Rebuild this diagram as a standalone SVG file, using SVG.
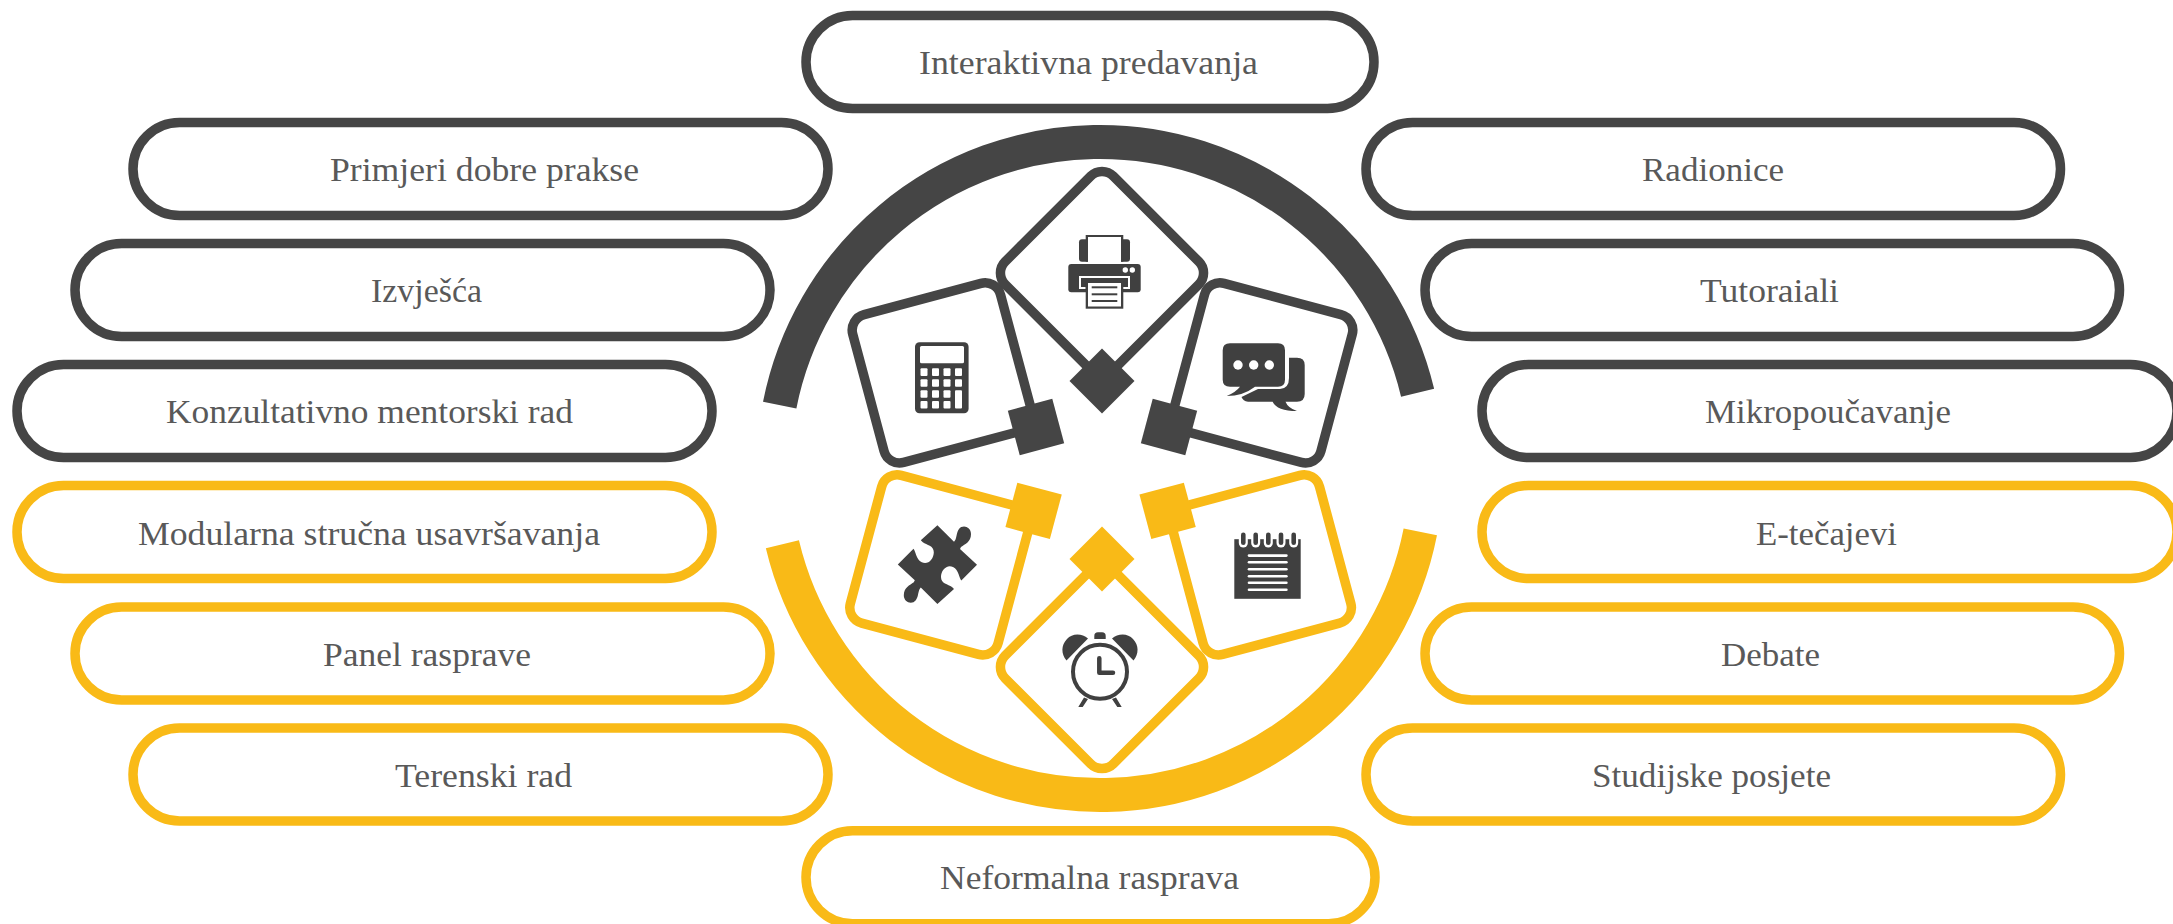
<svg xmlns="http://www.w3.org/2000/svg" width="2173" height="924" viewBox="0 0 2173 924">
<style>
.pill{fill:#fff;stroke-width:9.5}
.d{stroke:#454545}.y{stroke:#F9BA17}
.fd{fill:#454545}.fy{fill:#F9BA17}
.tile{fill:none;stroke-width:9.5}
.i{fill:#404040}.w{fill:#fff}
text{font-family:"Liberation Serif","Times New Roman",serif;font-size:34px;fill:#595959}
</style>
<rect width="2173" height="924" fill="#fff"/>
<g id="arcs" fill="none" stroke-width="34">
<path d="M779.7,405.1A326.5,326.5 0 0 1 1417.6,392.8" stroke="#454545"/>
<path d="M782.4,544.2A326.5,326.5 0 0 0 1420.3,531.9" stroke="#F9BA17"/>
</g>
<g id="pill-interaktivna"><rect class="pill d" x="806" y="15.5" width="568" height="93" rx="46.5"/><text x="919" y="74" textLength="339" lengthAdjust="spacingAndGlyphs">Interaktivna predavanja</text></g>
<g id="pill-primjeri"><rect class="pill d" x="133" y="122.5" width="695" height="93" rx="46.5"/><text x="330" y="181" textLength="309" lengthAdjust="spacingAndGlyphs">Primjeri dobre prakse</text></g>
<g id="pill-izvjesca"><rect class="pill d" x="75" y="243.5" width="695" height="93" rx="46.5"/><text x="371" y="302" textLength="111" lengthAdjust="spacingAndGlyphs">Izvješća</text></g>
<g id="pill-konzultativno"><rect class="pill d" x="17" y="364.5" width="695" height="93" rx="46.5"/><text x="166" y="423" textLength="407" lengthAdjust="spacingAndGlyphs">Konzultativno mentorski rad</text></g>
<g id="pill-modularna"><rect class="pill y" x="17" y="485.5" width="695" height="93" rx="46.5"/><text x="138" y="545" textLength="462" lengthAdjust="spacingAndGlyphs">Modularna stručna usavršavanja</text></g>
<g id="pill-panel"><rect class="pill y" x="75" y="607" width="695" height="93" rx="46.5"/><text x="323" y="666" textLength="208" lengthAdjust="spacingAndGlyphs">Panel rasprave</text></g>
<g id="pill-terenski"><rect class="pill y" x="133" y="728" width="695" height="93" rx="46.5"/><text x="395" y="787" textLength="177" lengthAdjust="spacingAndGlyphs">Terenski rad</text></g>
<g id="pill-neformalna"><rect class="pill y" x="806" y="830.7" width="569" height="93" rx="46.5"/><text x="940" y="889" textLength="299" lengthAdjust="spacingAndGlyphs">Neformalna rasprava</text></g>
<g id="pill-radionice"><rect class="pill d" x="1366" y="122.5" width="694.5" height="93" rx="46.5"/><text x="1642" y="181" textLength="142" lengthAdjust="spacingAndGlyphs">Radionice</text></g>
<g id="pill-tutoraiali"><rect class="pill d" x="1425" y="243.5" width="694.5" height="93" rx="46.5"/><text x="1700" y="302" textLength="139" lengthAdjust="spacingAndGlyphs">Tutoraiali</text></g>
<g id="pill-mikro"><rect class="pill d" x="1482" y="364.5" width="695" height="93" rx="46.5"/><text x="1705" y="423" textLength="246" lengthAdjust="spacingAndGlyphs">Mikropoučavanje</text></g>
<g id="pill-etecajevi"><rect class="pill y" x="1482" y="485.5" width="695" height="93" rx="46.5"/><text x="1756" y="545" textLength="141" lengthAdjust="spacingAndGlyphs">E-tečajevi</text></g>
<g id="pill-debate"><rect class="pill y" x="1425" y="607" width="694.5" height="93" rx="46.5"/><text x="1721" y="666" textLength="99" lengthAdjust="spacingAndGlyphs">Debate</text></g>
<g id="pill-studijske"><rect class="pill y" x="1366" y="728" width="694.5" height="93" rx="46.5"/><text x="1592" y="787" textLength="239" lengthAdjust="spacingAndGlyphs">Studijske posjete</text></g>

<g id="tile-calculator">
<rect class="tile d" x="-76.5" y="-76.5" width="153" height="153" rx="16" transform="translate(942.3,372.9) rotate(-15)"/>
<rect class="fd" x="-23" y="-23" width="46" height="46" transform="translate(1036,427) rotate(-15)"/>
<rect class="i" x="915" y="342.3" width="53.6" height="71" rx="4.5"/>
<rect class="w" x="920" y="346" width="44" height="17.3" rx="1.5"/>
<g class="w">
<rect x="920.5" y="368.3" width="7" height="7.7" rx="1"/><rect x="932" y="368.3" width="7" height="7.7" rx="1"/><rect x="943.5" y="368.3" width="7" height="7.7" rx="1"/><rect x="955" y="368.3" width="7" height="7.7" rx="1"/>
<rect x="920.5" y="379.3" width="7" height="7.4" rx="1"/><rect x="932" y="379.3" width="7" height="7.4" rx="1"/><rect x="943.5" y="379.3" width="7" height="7.4" rx="1"/><rect x="955" y="379.3" width="7" height="7.4" rx="1"/>
<rect x="920.5" y="390.3" width="7" height="7.4" rx="1"/><rect x="932" y="390.3" width="7" height="7.4" rx="1"/><rect x="943.5" y="390.3" width="7" height="7.4" rx="1"/>
<rect x="920.5" y="401" width="7" height="7.4" rx="1"/><rect x="932" y="401" width="7" height="7.4" rx="1"/><rect x="943.5" y="401" width="7" height="7.4" rx="1"/>
<rect x="955" y="390.3" width="7" height="18.1" rx="1"/>
</g>
</g>

<g id="tile-chat">
<rect class="tile d" x="-76.5" y="-76.5" width="153" height="153" rx="16" transform="translate(1262.7,372.9) rotate(15)"/>
<rect class="fd" x="-23" y="-23" width="46" height="46" transform="translate(1169,427) rotate(15)"/>
<path class="i" d="M1289,357.7H1297Q1304.7,357.7 1304.7,365V394Q1304.7,401.7 1297,401.7H1285.5Q1288,408 1297,411Q1277,411 1272.6,401.7H1248Q1243,401 1241.5,397L1258,389H1280Q1289,388.5 1289,378Z"/>
<path class="i" d="M1230,343.3H1278Q1285,343.3 1285,350.3V379.7Q1285,386.7 1278,386.7H1255Q1243,396 1226.7,396Q1236,392 1240,386.7H1230Q1222.7,386.7 1222.7,379.7V350.3Q1222.7,343.3 1230,343.3Z"/>
<circle class="w" cx="1238" cy="365" r="4.7"/><circle class="w" cx="1253.7" cy="365" r="4.7"/><circle class="w" cx="1269.3" cy="365" r="4.7"/>
</g>

<g id="tile-printer">
<rect class="tile d" x="-76.5" y="-76.5" width="153" height="153" rx="16" transform="translate(1102,273) rotate(45)"/>
<rect class="fd" x="-23" y="-23" width="46" height="46" transform="translate(1102,381) rotate(45)"/>
<rect class="i" x="1079" y="239.3" width="51" height="22.4" rx="3"/>
<rect class="i" x="1085.7" y="235" width="37.6" height="26.7"/>
<rect class="w" x="1088" y="237" width="33" height="25"/>
<rect class="i" x="1068.3" y="264" width="72.4" height="28.3" rx="3"/>
<circle class="w" cx="1125.3" cy="270" r="2.7"/><circle class="w" cx="1132.3" cy="270" r="2.7"/>
<path d="M1085.7,288H1080V277H1129V288H1123" fill="none" stroke="#fff" stroke-width="2"/>
<rect class="i" x="1085.7" y="281" width="37.6" height="27.7"/>
<rect class="w" x="1088" y="283" width="33" height="23.5"/>
<rect class="i" x="1091.7" y="286.3" width="25.6" height="2"/><rect class="i" x="1091.7" y="293.3" width="25.6" height="2"/><rect class="i" x="1091.7" y="300" width="25.6" height="2"/>
</g>

<g id="tile-puzzle">
<rect class="tile y" x="-76.5" y="-76.5" width="153" height="153" rx="16" transform="translate(939.9,564.9) rotate(15)"/>
<rect class="fy" x="-23" y="-23" width="46" height="46" transform="translate(1033.6,510.8) rotate(15)"/>
<path class="i" d="M937.4,525.3L954,541.7C957,539 956,533 959,529C963,524 971,527 971,534C971,542 965,544 961,547L960,549L977,564.7L961.3,580.5C959,578 959,570 953,567C947,564 941,570 941,577C941,584 948,584 952,587L954,589L937.4,604L920.8,587.6C917.8,590.3 918.8,596.3 915.8,600.3C911.8,605.3 903.8,602.3 903.8,595.3C903.8,587.3 909.8,585.3 913.8,582.3L914.8,580.3L897.8,564.6L913.5,548.8C915.8,551.3 915.8,559.3 921.8,562.3C927.8,565.3 933.8,559.3 933.8,552.3C933.8,545.3 926.8,545.3 922.8,542.3L920.8,540.3Z"/>
</g>

<g id="tile-notebook">
<rect class="tile y" x="-76.5" y="-76.5" width="153" height="153" rx="16" transform="translate(1261.3,564.9) rotate(-15)"/>
<rect class="fy" x="-23" y="-23" width="46" height="46" transform="translate(1167.6,510.8) rotate(-15)"/>
<g transform="translate(0,1.5)">
<rect class="i" x="1234.3" y="537.7" width="66.4" height="59.6"/>
<g class="w"><rect x="1238.8" y="530" width="9" height="16" rx="4.5"/><rect x="1251.2" y="530" width="9" height="16" rx="4.5"/><rect x="1263.8" y="530" width="9" height="16" rx="4.5"/><rect x="1276.5" y="530" width="9" height="16" rx="4.5"/><rect x="1289.2" y="530" width="9" height="16" rx="4.5"/></g>
<g class="i"><rect x="1241" y="531" width="4.6" height="12.5" rx="2.3"/><rect x="1253.4" y="531" width="4.6" height="12.5" rx="2.3"/><rect x="1266" y="531" width="4.6" height="12.5" rx="2.3"/><rect x="1278.7" y="531" width="4.6" height="12.5" rx="2.3"/><rect x="1291.4" y="531" width="4.6" height="12.5" rx="2.3"/></g>
<g class="w"><rect x="1247.7" y="552.8" width="40" height="2.6" rx="1.3"/><rect x="1247.7" y="559.5" width="40" height="2.6" rx="1.3"/><rect x="1247.7" y="566.5" width="40" height="2.6" rx="1.3"/><rect x="1247.7" y="573.5" width="40" height="2.6" rx="1.3"/><rect x="1247.7" y="580" width="40" height="2.6" rx="1.3"/><rect x="1247.7" y="587" width="40" height="2.6" rx="1.3"/></g>
</g>
</g>

<g id="tile-clock">
<rect class="tile y" x="-76.5" y="-76.5" width="153" height="153" rx="16" transform="translate(1102,667) rotate(45)"/>
<rect class="fy" x="-23" y="-23" width="46" height="46" transform="translate(1102,559) rotate(45)"/>
<g transform="translate(0,1)">
<circle cx="1100" cy="670.7" r="27" fill="none" stroke="#404040" stroke-width="4"/>
<path d="M1099.3,657.3V671.7H1113" fill="none" stroke="#404040" stroke-width="4.5" stroke-linecap="round" stroke-linejoin="round"/>
<path class="i" d="M1066.5,659.5L1088,637.5C1082,632 1072,632 1067,638C1061,644 1061,653 1066.5,659.5Z"/>
<path class="i" d="M1133.5,659.5L1112,637.5C1118,632 1128,632 1133,638C1139,644 1139,653 1133.5,659.5Z"/>
<path class="i" d="M1094.3,638V635Q1094.3,631.3 1098,631.3H1102Q1105.7,631.3 1105.7,635V638Z"/>
<path class="i" d="M1084,696.5L1078.3,706H1082.7L1088,698ZM1116,696.5L1121.7,706H1117.3L1112,698Z"/>
</g>
</g>
</svg>
